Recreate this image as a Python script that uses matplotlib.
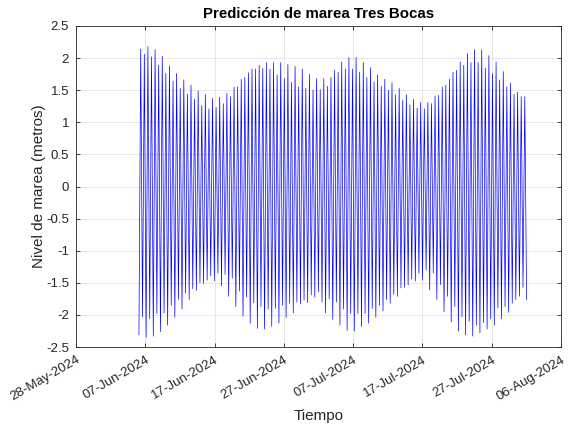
import numpy as np
import matplotlib
matplotlib.use("Agg")
import matplotlib.pyplot as plt
import matplotlib.dates as mdates
from matplotlib.ticker import FuncFormatter

# tide extremes (metres), low/high alternate, low first
lows = [-2.31, -2.03, -2.35, -2.06, -2.33, -1.98, -2.26, -1.97, -2.16, -1.85,
        -2.04, -1.76, -1.91, -1.66, -1.76, -1.59, -1.62, -1.50, -1.51, -1.46,
        -1.39, -1.47, -1.35, -1.55, -1.37, -1.71, -1.43, -1.87, -1.63, -2.02,
        -1.72, -2.13, -1.81, -2.21, -1.87, -2.22, -1.91, -2.18, -1.90, -2.13,
        -1.85, -2.04, -1.82, -1.97, -1.80, -1.83, -1.77, -1.81, -1.69, -1.72,
        -1.64, -1.80, -1.97, -1.75,
        -2.07, -1.80, -2.16, -1.91, -2.24, -1.98, -2.25, -1.98, -2.18, -1.98,
        -2.13, -1.90, -2.04, -1.85, -1.94, -1.76, -1.82, -1.68, -1.71, -1.58,
        -1.57, -1.53, -1.44, -1.47, -1.35, -1.46, -1.30, -1.61, -1.35, -1.76,
        -1.53, -1.95, -1.71, -2.11, -1.87, -2.25, -2.03, -2.31, -2.10, -2.33,
        -2.16, -2.28, -2.12, -2.22, -2.06, -2.16, -1.89, -2.06, -1.87, -1.96,
        -1.82, -1.76, -1.71, -1.57, -1.76]
highs = [2.14, 2.06, 2.18, 2.02, 2.13, 1.89, 2.03, 1.76, 1.88, 1.64,
         1.76, 1.53, 1.66, 1.44, 1.58, 1.36, 1.49, 1.26, 1.43, 1.21,
         1.37, 1.23, 1.39, 1.29, 1.45, 1.40, 1.55, 1.55, 1.67, 1.70,
         1.77, 1.83, 1.83, 1.89, 1.84, 1.93, 1.83, 1.93, 1.74, 1.93,
         1.68, 1.90, 1.62, 1.87, 1.55, 1.83, 1.53, 1.75, 1.50, 1.68,
         1.51, 1.68, 1.56,
         1.70, 1.81, 1.78, 1.94, 1.83, 2.01, 1.83, 2.01, 1.78, 1.93,
         1.70, 1.85, 1.63, 1.74, 1.56, 1.67, 1.50, 1.62, 1.43, 1.53,
         1.34, 1.43, 1.27, 1.36, 1.22, 1.31, 1.21, 1.31, 1.29, 1.41,
         1.42, 1.55, 1.58, 1.67, 1.78, 1.81, 1.94, 1.89, 2.07, 1.93,
         2.13, 1.93, 2.13, 1.84, 2.04, 1.76, 1.94, 1.66, 1.79, 1.55,
         1.61, 1.44, 1.47, 1.40, 1.40]

t0 = np.datetime64("2024-06-06T02:00")
step = np.timedelta64(373, "m")  # half of an M2 tidal cycle

nivel = []
for i in range(len(lows)):
    nivel.append(lows[i])
    if i < len(highs):
        nivel.append(highs[i])
nivel = np.array(nivel)
tiempo = t0 + np.arange(len(nivel)) * step
tiempo = tiempo.astype("datetime64[m]").astype(object)

plt.rcParams["font.family"] = ["Liberation Sans", "DejaVu Sans"]
plt.rcParams["axes.unicode_minus"] = False

fig = plt.figure(figsize=(5.68, 4.32), dpi=100)
ax = fig.add_axes([76/568, 1-347/432, 485/568, 321/432])
ax.plot(tiempo, nivel, color=(0, 0, 1), lw=0.5)

ax.set_xlim(np.datetime64("2024-05-28").astype(object), np.datetime64("2024-08-06").astype(object))
ax.set_ylim(-2.5, 2.5)
ax.set_yticks(np.arange(-2.5, 2.51, 0.5))
ax.yaxis.set_major_formatter(FuncFormatter(lambda v, p: ("%g" % round(v, 2))))
ticks = [np.datetime64("2024-05-28") + np.timedelta64(10 * k, "D") for k in range(8)]
ax.set_xticks([t.astype(object) for t in ticks])
ax.xaxis.set_major_formatter(mdates.DateFormatter("%d-%b-%Y"))

ax.grid(True, color="#e3e3e3", lw=0.6)
ax.set_axisbelow(True)
for s in ax.spines.values():
    s.set_color("#262626")
    s.set_linewidth(0.6)
ax.tick_params(direction="in", length=3, width=0.6, colors="#262626",
               labelsize=9.5, top=True, right=True, pad=5)
for lab in ax.get_xticklabels():
    lab.set_rotation(30)
    lab.set_ha("right")
    lab.set_rotation_mode("anchor")

ax.set_title("Predicción de marea Tres Bocas", fontsize=10.8, fontweight="bold", pad=6)
ax.set_xlabel("Tiempo", fontsize=11, color="#262626", labelpad=4)
ax.set_ylabel("Nivel de marea (metros)", fontsize=11, color="#262626", labelpad=0)

fig.savefig("out.png", dpi=100)
